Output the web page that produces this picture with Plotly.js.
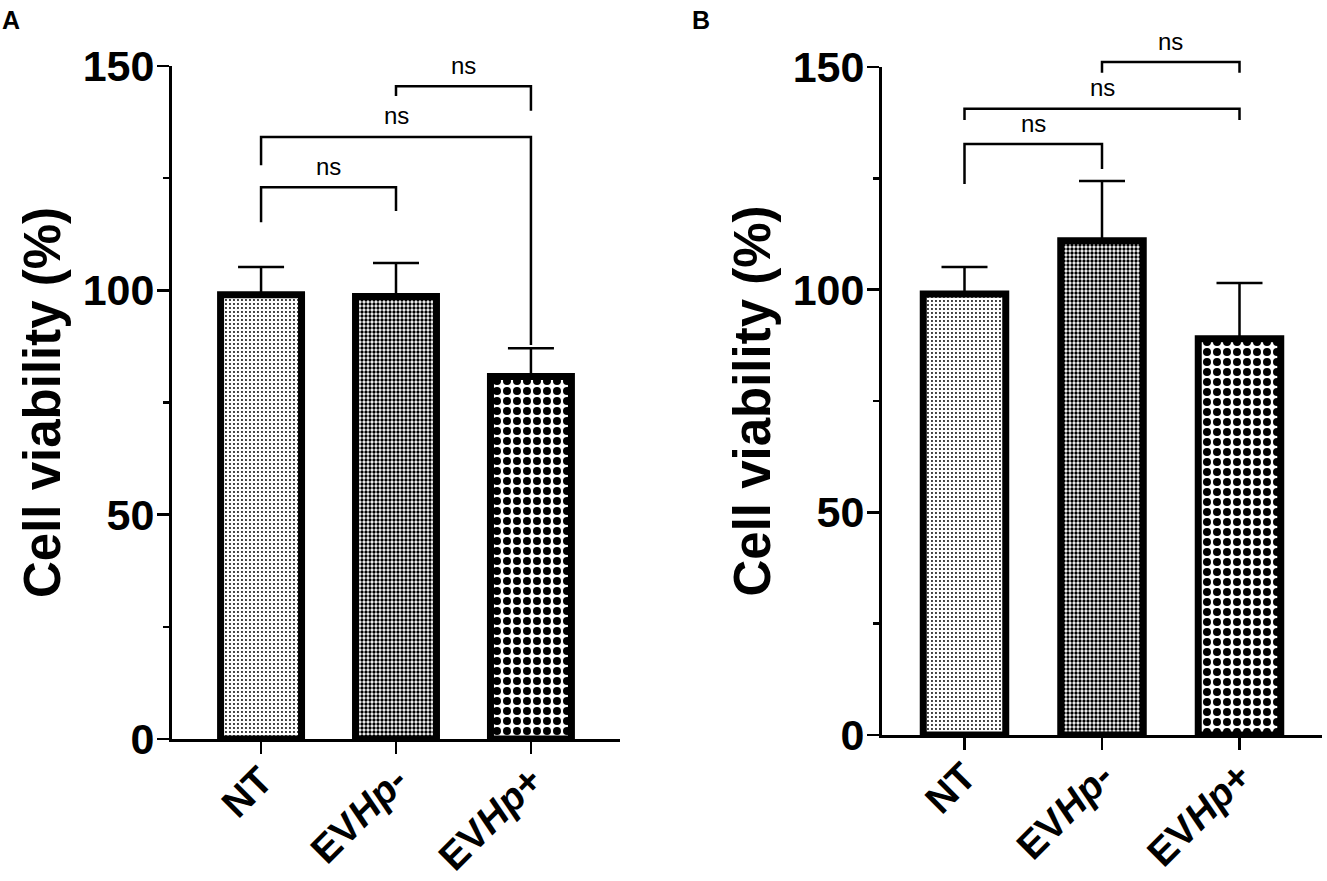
<!DOCTYPE html>
<html>
<head>
<meta charset="utf-8">
<script src="https://cdn.plot.ly/plotly-3.0.1.min.js"></script>
<style>
  html, body { margin: 0; padding: 0; background: white; }
  #chart { width: 1327px; height: 881px; }
</style>
</head>
<body>
<div id="chart"></div>
<script>
// values
const groups = ['NT', 'EV<i>Hp</i>-', 'EV<i>Hp</i>+']
const viabilityA = [99, 98.6, 80.8]
const sdA = [6.2, 7.5, 6.3]
const viabilityB = [99, 111, 89]
const sdB = [6.1, 13.4, 12.5]

// significance brackets: pair of groups, bracket height, left leg end, right leg end
const bracketPairs = [[0, 1], [0, 2], [1, 2]]
const bracketLabels = ['ns', 'ns', 'ns']
const bracketTopA = [123.0, 134.2, 145.5]
const bracketLeftA = [115.2, 127.9, 143.3]
const bracketRightA = [117.7, 87.8, 140.0]
const bracketTopB = [132.7, 140.6, 151.1]
const bracketLeftB = [123.7, 138.1, 148.7]
const bracketRightB = [127.1, 138.1, 148.7]

const yTicks = [0, 50, 100, 150]
const yMax = 150

const W = 1327, H = 881
const font = 'Liberation Sans, Arial, Helvetica, sans-serif'

// panel geometry (px)
const panels = {
    A: { x0: 172, x1: 620, y0: 739, y1: 66, pad: 0.66 },
    B: { x0: 882, x1: 1322, y0: 735, y1: 67, pad: 0.60 },
}

function domX(p) { return [p.x0 / W, p.x1 / W] }
function domY(p) { return [(H - p.y0) / H, (H - p.y1) / H] }

// invisible axis that continues the value scale up to the top edge, so brackets above 150 are not clipped
function extendedAxis(p, anchor) {
    var d = domY(p)
    return {
        domain: [d[0], 1],
        range: [0, yMax * (1 - d[0]) / (d[1] - d[0])],
        visible: false,
        fixedrange: true,
        anchor: anchor,
    }
}

function barTrace(vals, sd, xa, ya) {
    return {
        type: 'bar',
        x: groups,
        y: vals,
        xaxis: xa,
        yaxis: ya,
        width: 0.6,
        marker: {
            color: 'white',
            line: { color: 'black', width: 7 },
            pattern: {
                shape: ['.', '.', '.'],
                size: [4, 4, 10],
                solidity: [0.18, 0.55, 0.5],
                fgcolor: 'black',
                bgcolor: 'white',
                fillmode: 'replace',
            },
        },
        error_y: {
            type: 'data',
            symmetric: false,
            array: sd,
            arrayminus: sd.map(function () { return 0 }),
            color: 'black',
            thickness: 2.5,
            width: 23,
        },
        hoverinfo: 'skip',
    }
}

function bracketTraces(top, left, right, xa, ya) {
    var traces = []
    for (var i = 0; i < bracketPairs.length; i++) {
        var a = groups[bracketPairs[i][0]]
        var b = groups[bracketPairs[i][1]]
        traces.push({
            type: 'scatter',
            mode: 'lines',
            x: [a, a, b, b],
            y: [left[i], top[i], top[i], right[i]],
            xaxis: xa,
            yaxis: ya,
            line: { color: 'black', width: 2.5 },
            hoverinfo: 'skip',
        })
    }
    return traces
}

function bracketNotes(top, xref, yref) {
    var notes = []
    for (var i = 0; i < bracketPairs.length; i++) {
        notes.push({
            x: (bracketPairs[i][0] + bracketPairs[i][1]) / 2,
            y: top[i],
            xref: xref,
            yref: yref,
            text: bracketLabels[i],
            showarrow: false,
            yanchor: 'middle',
            yshift: 21,
            font: { family: font, size: 24, color: 'black' },
        })
    }
    return notes
}

function xAxis(p, anchor) {
    return {
        domain: domX(p),
        anchor: anchor,
        type: 'category',
        range: [-p.pad, groups.length - 1 + p.pad],
        showline: true,
        linewidth: 3,
        linecolor: 'black',
        ticks: 'outside',
        ticklen: 12,
        tickwidth: 2.5,
        tickcolor: 'black',
        tickangle: -45,
        ticklabelstandoff: -12,
        tickfont: { family: font, size: 39, color: 'black', weight: 'bold' },
        showgrid: false,
        zeroline: false,
        fixedrange: true,
    }
}

function yAxis(p, anchor) {
    return {
        domain: domY(p),
        anchor: anchor,
        range: [0, yMax],
        tickvals: yTicks,
        ticktext: yTicks.map(String),
        showline: true,
        linewidth: 3,
        linecolor: 'black',
        ticks: 'outside',
        ticklen: 12,
        tickwidth: 2.5,
        tickcolor: 'black',
        ticklabelstandoff: -6,
        minor: { dtick: 25, tick0: 0, ticks: 'outside', ticklen: 6, tickwidth: 2.5, tickcolor: 'black', showgrid: false },
        tickfont: { family: font, size: 43, color: 'black', weight: 'bold' },
        title: { text: 'Cell viability (%)', font: { family: font, size: 51, color: 'black', weight: 'bold' }, standoff: 6 },
        showgrid: false,
        zeroline: false,
        fixedrange: true,
    }
}

var traces = [
    barTrace(viabilityA, sdA, 'x', 'y'),
    barTrace(viabilityB, sdB, 'x2', 'y2'),
].concat(
    bracketTraces(bracketTopA, bracketLeftA, bracketRightA, 'x', 'y3'),
    bracketTraces(bracketTopB, bracketLeftB, bracketRightB, 'x2', 'y4')
)

var layout = {
    width: W,
    height: H,
    showlegend: false,
    margin: { l: 0, r: 0, t: 0, b: 0 },
    paper_bgcolor: 'white',
    plot_bgcolor: 'rgba(0,0,0,0)',
    font: { family: font, color: 'black' },
    xaxis: xAxis(panels.A, 'y'),
    yaxis: yAxis(panels.A, 'x'),
    xaxis2: xAxis(panels.B, 'y2'),
    yaxis2: yAxis(panels.B, 'x2'),
    yaxis3: extendedAxis(panels.A, 'x'),
    yaxis4: extendedAxis(panels.B, 'x2'),
    annotations: [
        { x: 0, y: 1 - 4 / H, xref: 'paper', yref: 'paper', xanchor: 'left', yanchor: 'top', text: '<b>A</b>', showarrow: false, font: { family: font, size: 25 } },
        { x: 690 / W, y: 1 - 4 / H, xref: 'paper', yref: 'paper', xanchor: 'left', yanchor: 'top', text: '<b>B</b>', showarrow: false, font: { family: font, size: 25 } },
    ].concat(
        bracketNotes(bracketTopA, 'x', 'y3'),
        bracketNotes(bracketTopB, 'x2', 'y4')
    ),
}

Plotly.newPlot('chart', traces, layout, { displayModeBar: false, staticPlot: true })
</script>
</body>
</html>
